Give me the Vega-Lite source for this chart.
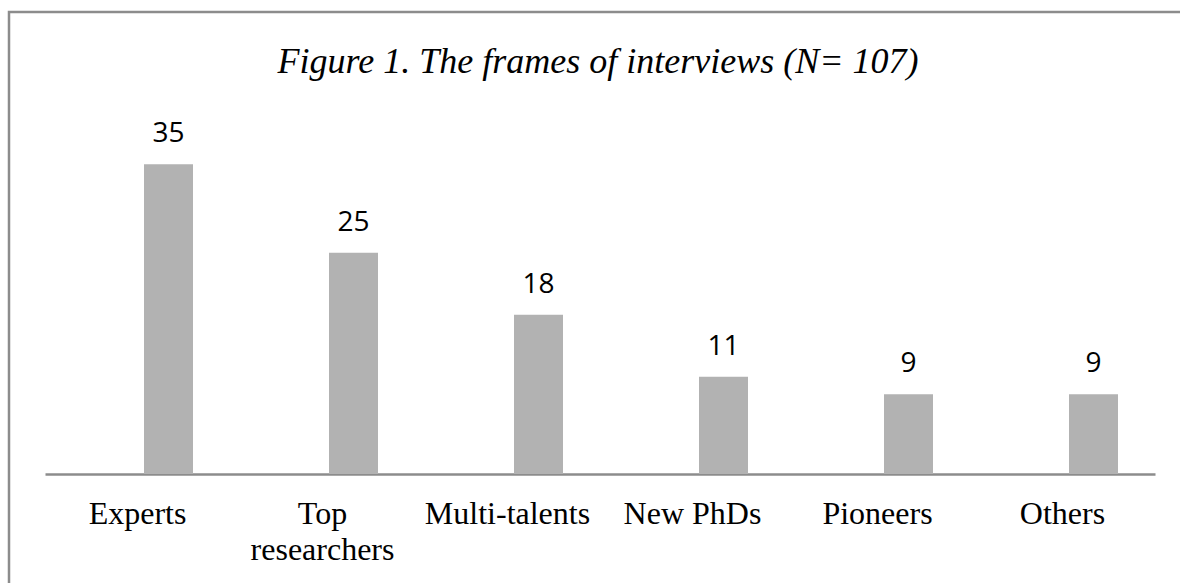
{
  "$schema": "https://vega.github.io/schema/vega-lite/v6.json",
  "autosize": {"type": "none"},
  "padding": {"left": 9, "top": 12, "right": 0, "bottom": 0},
  "width": 1200,
  "height": 600,
  "background": "white",
  "config": {"view": {"stroke": "#8c8c8c", "strokeWidth": 2.5}},
  "title": {
    "text": "Figure 1. The frames of interviews (N= 107)",
    "font": "Liberation Serif",
    "fontSize": 36,
    "fontStyle": "italic",
    "fontWeight": "normal",
    "color": "black",
    "anchor": "middle",
    "baseline": "alphabetic",
    "offset": -97,
    "dx": -11
  },
  "data": {
    "values": [
      {"frame": "Experts", "count": 35},
      {"frame": "Top researchers", "count": 25},
      {"frame": "Multi-talents", "count": 18},
      {"frame": "New PhDs", "count": 11},
      {"frame": "Pioneers", "count": 9},
      {"frame": "Others", "count": 9}
    ]
  },
  "encoding": {
    "x": {
      "field": "frame",
      "type": "nominal",
      "sort": null,
      "scale": {"range": [36, 1146], "paddingInner": 0, "paddingOuter": 0},
      "axis": {
        "orient": "bottom",
        "offset": -138,
        "title": null,
        "grid": false,
        "ticks": false,
        "tickSize": 0,
        "domainColor": "#8c8c8c",
        "domainWidth": 2.5,
        "labelFont": "Liberation Serif",
        "labelFontSize": 32,
        "labelColor": "black",
        "labelAngle": 0,
        "labelBaseline": "alphabetic",
        "labelPadding": 49,
        "labelLineHeight": 36.6,
        "labelLimit": 0,
        "labelExpr": "datum.label == 'Top researchers' ? ['Top', 'researchers'] : datum.label"
      }
    },
    "y": {
      "field": "count",
      "type": "quantitative",
      "scale": {"domain": [0, 40], "range": [462, 108]},
      "axis": null
    }
  },
  "layer": [
    {"mark": {"type": "bar", "width": 49, "xOffset": 31, "color": "#b2b2b2"}},
    {
      "mark": {"type": "text", "xOffset": 31, "dy": -22, "baseline": "alphabetic", "font": "Open Sans", "fontSize": 28, "color": "black"},
      "encoding": {"text": {"field": "count", "type": "quantitative"}}
    }
  ]
}
